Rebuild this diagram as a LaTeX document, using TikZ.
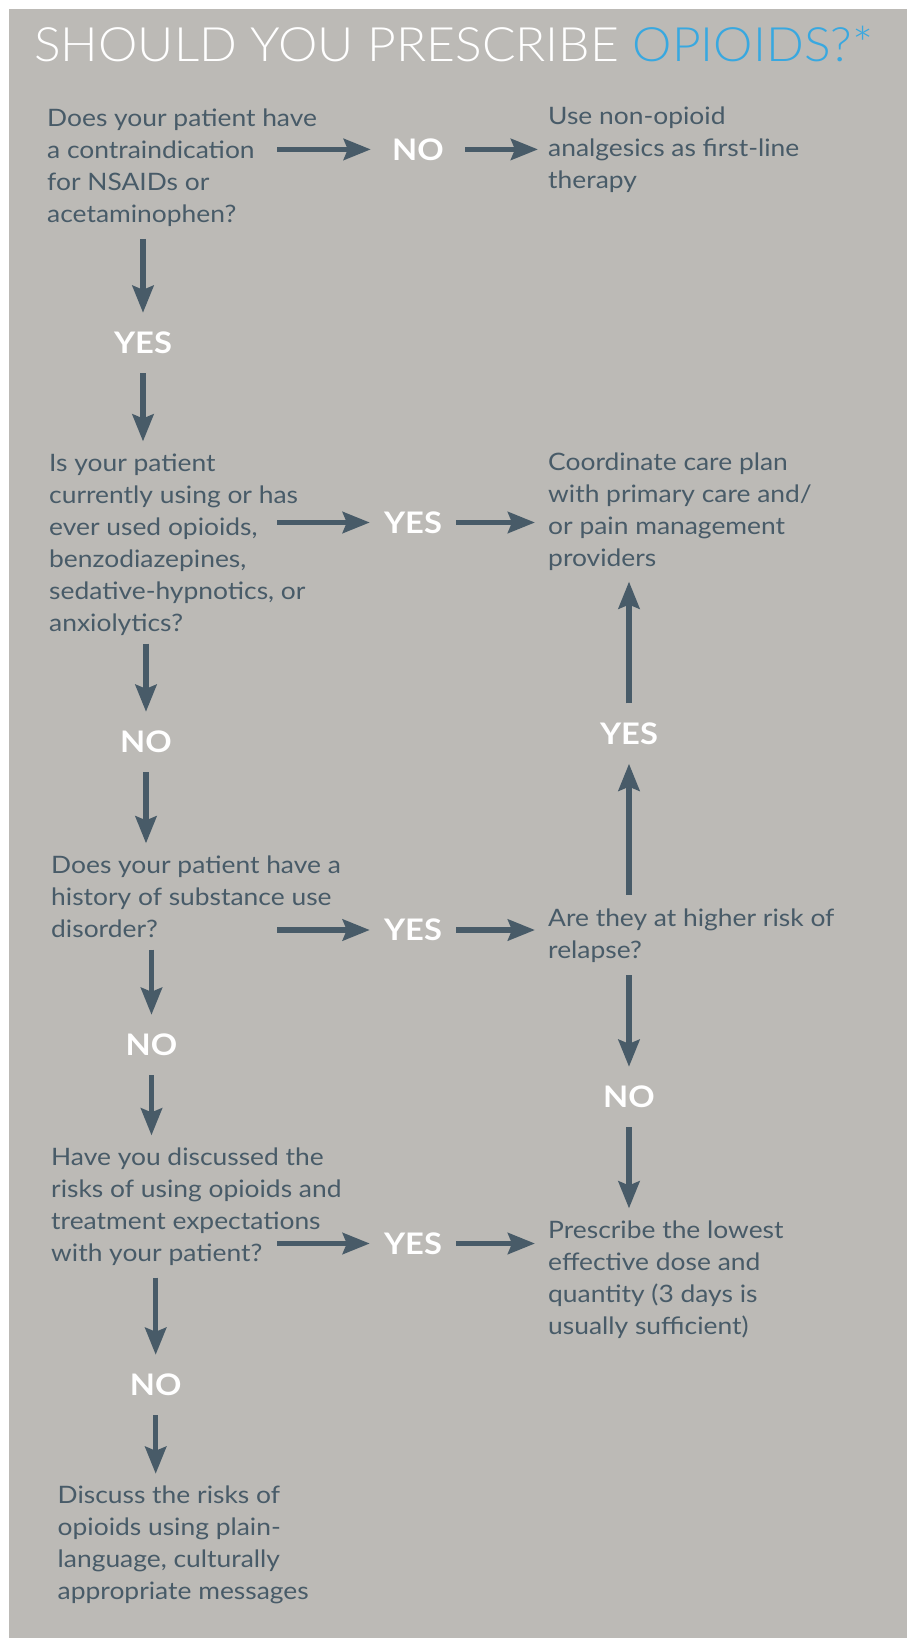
\documentclass[tikz,border=0pt]{standalone}
\usepackage{fontspec}
\setmainfont{Lato}[FakeStretch=1.1]
\newfontfamily\titlefont{Lato Light}[FakeStretch=1.05]
\usetikzlibrary{arrows.meta,calc}

\definecolor{bggray}{RGB}{188,186,182}
\definecolor{slate}{RGB}{72,91,104}
\definecolor{optblue}{RGB}{56,168,224}

\tikzset{
  arr/.style={draw=slate, line width=5.5pt, -{Stealth[length=27pt,width=21pt,inset=4pt]}},
  txt/.style={anchor=west, inner sep=0pt, align=left, text=slate,
    font=\fontsize{24}{32}\selectfont},
  lbl/.style={inner sep=0pt, minimum width=86pt, minimum height=60pt, text=white,
    font=\fontsize{29.7}{30}\selectfont\bfseries},
}

\begin{document}
\begin{tikzpicture}[x=1pt, y=-1pt]
	% Page and background
	\useasboundingbox (0,0) rectangle (907,1638);
	\fill[white] (0,0) rectangle (907,1638);
	\fill[bggray] (9,9) rectangle (907,1638);

	% Title
	\node[anchor=base west, inner sep=0pt, text=white,
		font=\titlefont\fontsize{47.4}{47.4}\selectfont] (title) at (34,61)
		{SHOULD YOU PRESCRIBE \textcolor{optblue}{OPIOIDS?*}};

	% Left column: questions
	\node[txt] (q1) at (47,167.7) {Does your patient have\\a contraindication\\for NSAIDs or\\acetaminophen?};
	\node[txt] (q2) at (49,544.5) {Is your patient\\currently using or has\\ever used opioids,\\benzodiazepines,\\sedative-hypnotics, or\\anxiolytics?};
	\node[txt] (q3) at (51,896.5) {Does your patient have a\\history of substance use\\disorder?};
	\node[txt] (q4) at (51,1206.5) {Have you discussed the\\risks of using opioids and\\treatment expectations\\with your patient?};
	\node[txt] (q5) at (57.5,1545) {Discuss the risks of\\opioids using plain-\\language, culturally\\appropriate messages};

	% Right column: outcomes
	\node[txt] (r1) at (548,149.4) {Use non-opioid\\analgesics as first-line\\therapy};
	\node[txt] (r2) at (548,511.5) {Coordinate care plan\\with primary care and/\\or pain management\\providers};
	\node[txt] (r3) at (548,936) {Are they at higher risk of\\relapse?};
	\node[txt] (r4) at (548,1279.5) {Prescribe the lowest\\effective dose and\\quantity (3 days is\\usually sufficient)};

	% YES / NO labels
	\node[lbl, minimum width=94pt] (no1) at (418,149.4) {NO};
	\node[lbl] (yes1) at (143,343) {YES};
	\node[lbl] (yes2) at (413,522.5) {YES};
	\node[lbl] (no2) at (146,742) {NO};
	\node[lbl] (yes3) at (413,930) {YES};
	\node[lbl] (no3) at (151.5,1045) {NO};
	\node[lbl] (yes4) at (413,1243.5) {YES};
	\node[lbl] (no4) at (155.7,1385) {NO};
	\node[lbl] (yes5) at (629,733.5) {YES};
	\node[lbl] (no5) at (629,1097) {NO};

	% Across
	\draw[arr] ($(q1.west |- no1)+(230,0)$) -- (no1.west);
	\draw[arr, shorten >=10pt] (no1.east) -- (no1 -| r1.west);
	\draw[arr] ($(q2.west |- yes2)+(228,0)$) -- (yes2.west);
	\draw[arr, shorten >=13pt] (yes2.east) -- (yes2 -| r2.west);
	\draw[arr] ($(q3.west |- yes3)+(226,0)$) -- (yes3.west);
	\draw[arr, shorten >=13pt] (yes3.east) -- (yes3 -| r3.west);
	\draw[arr] ($(q4.west |- yes4)+(226,0)$) -- (yes4.west);
	\draw[arr, shorten >=13pt] (yes4.east) -- (yes4 -| r4.west);

	% Down the left
	\draw[arr, shorten <=12pt] (q1.south -| yes1) -- (yes1.north);
	\draw[arr, shorten >=12pt] (yes1.south) -- (q2.north -| yes1);
	\draw[arr, shorten <=8pt] (q2.south -| no2) -- (no2.north);
	\draw[arr, shorten >=12pt] (no2.south) -- (q3.north -| no2);
	\draw[arr, shorten <=12pt] (q3.south -| no3) -- (no3.north);
	\draw[arr, shorten >=12pt] (no3.south) -- (q4.north -| no3);
	\draw[arr, shorten <=12pt] (q4.south -| no4) -- (no4.north);
	\draw[arr, shorten >=12pt] (no4.south) -- (q5.north -| no4);

	% Right side, up and down from relapse
	\draw[arr, shorten <=14pt] (r3.north -| yes5) -- (yes5.south);
	\draw[arr, shorten >=11pt] (yes5.north) -- (r2.south -| yes5);
	\draw[arr, shorten <=12pt] (r3.south -| no5) -- (no5.north);
	\draw[arr, shorten >=12pt] (no5.south) -- (r4.north -| no5);
\end{tikzpicture}
\end{document}
